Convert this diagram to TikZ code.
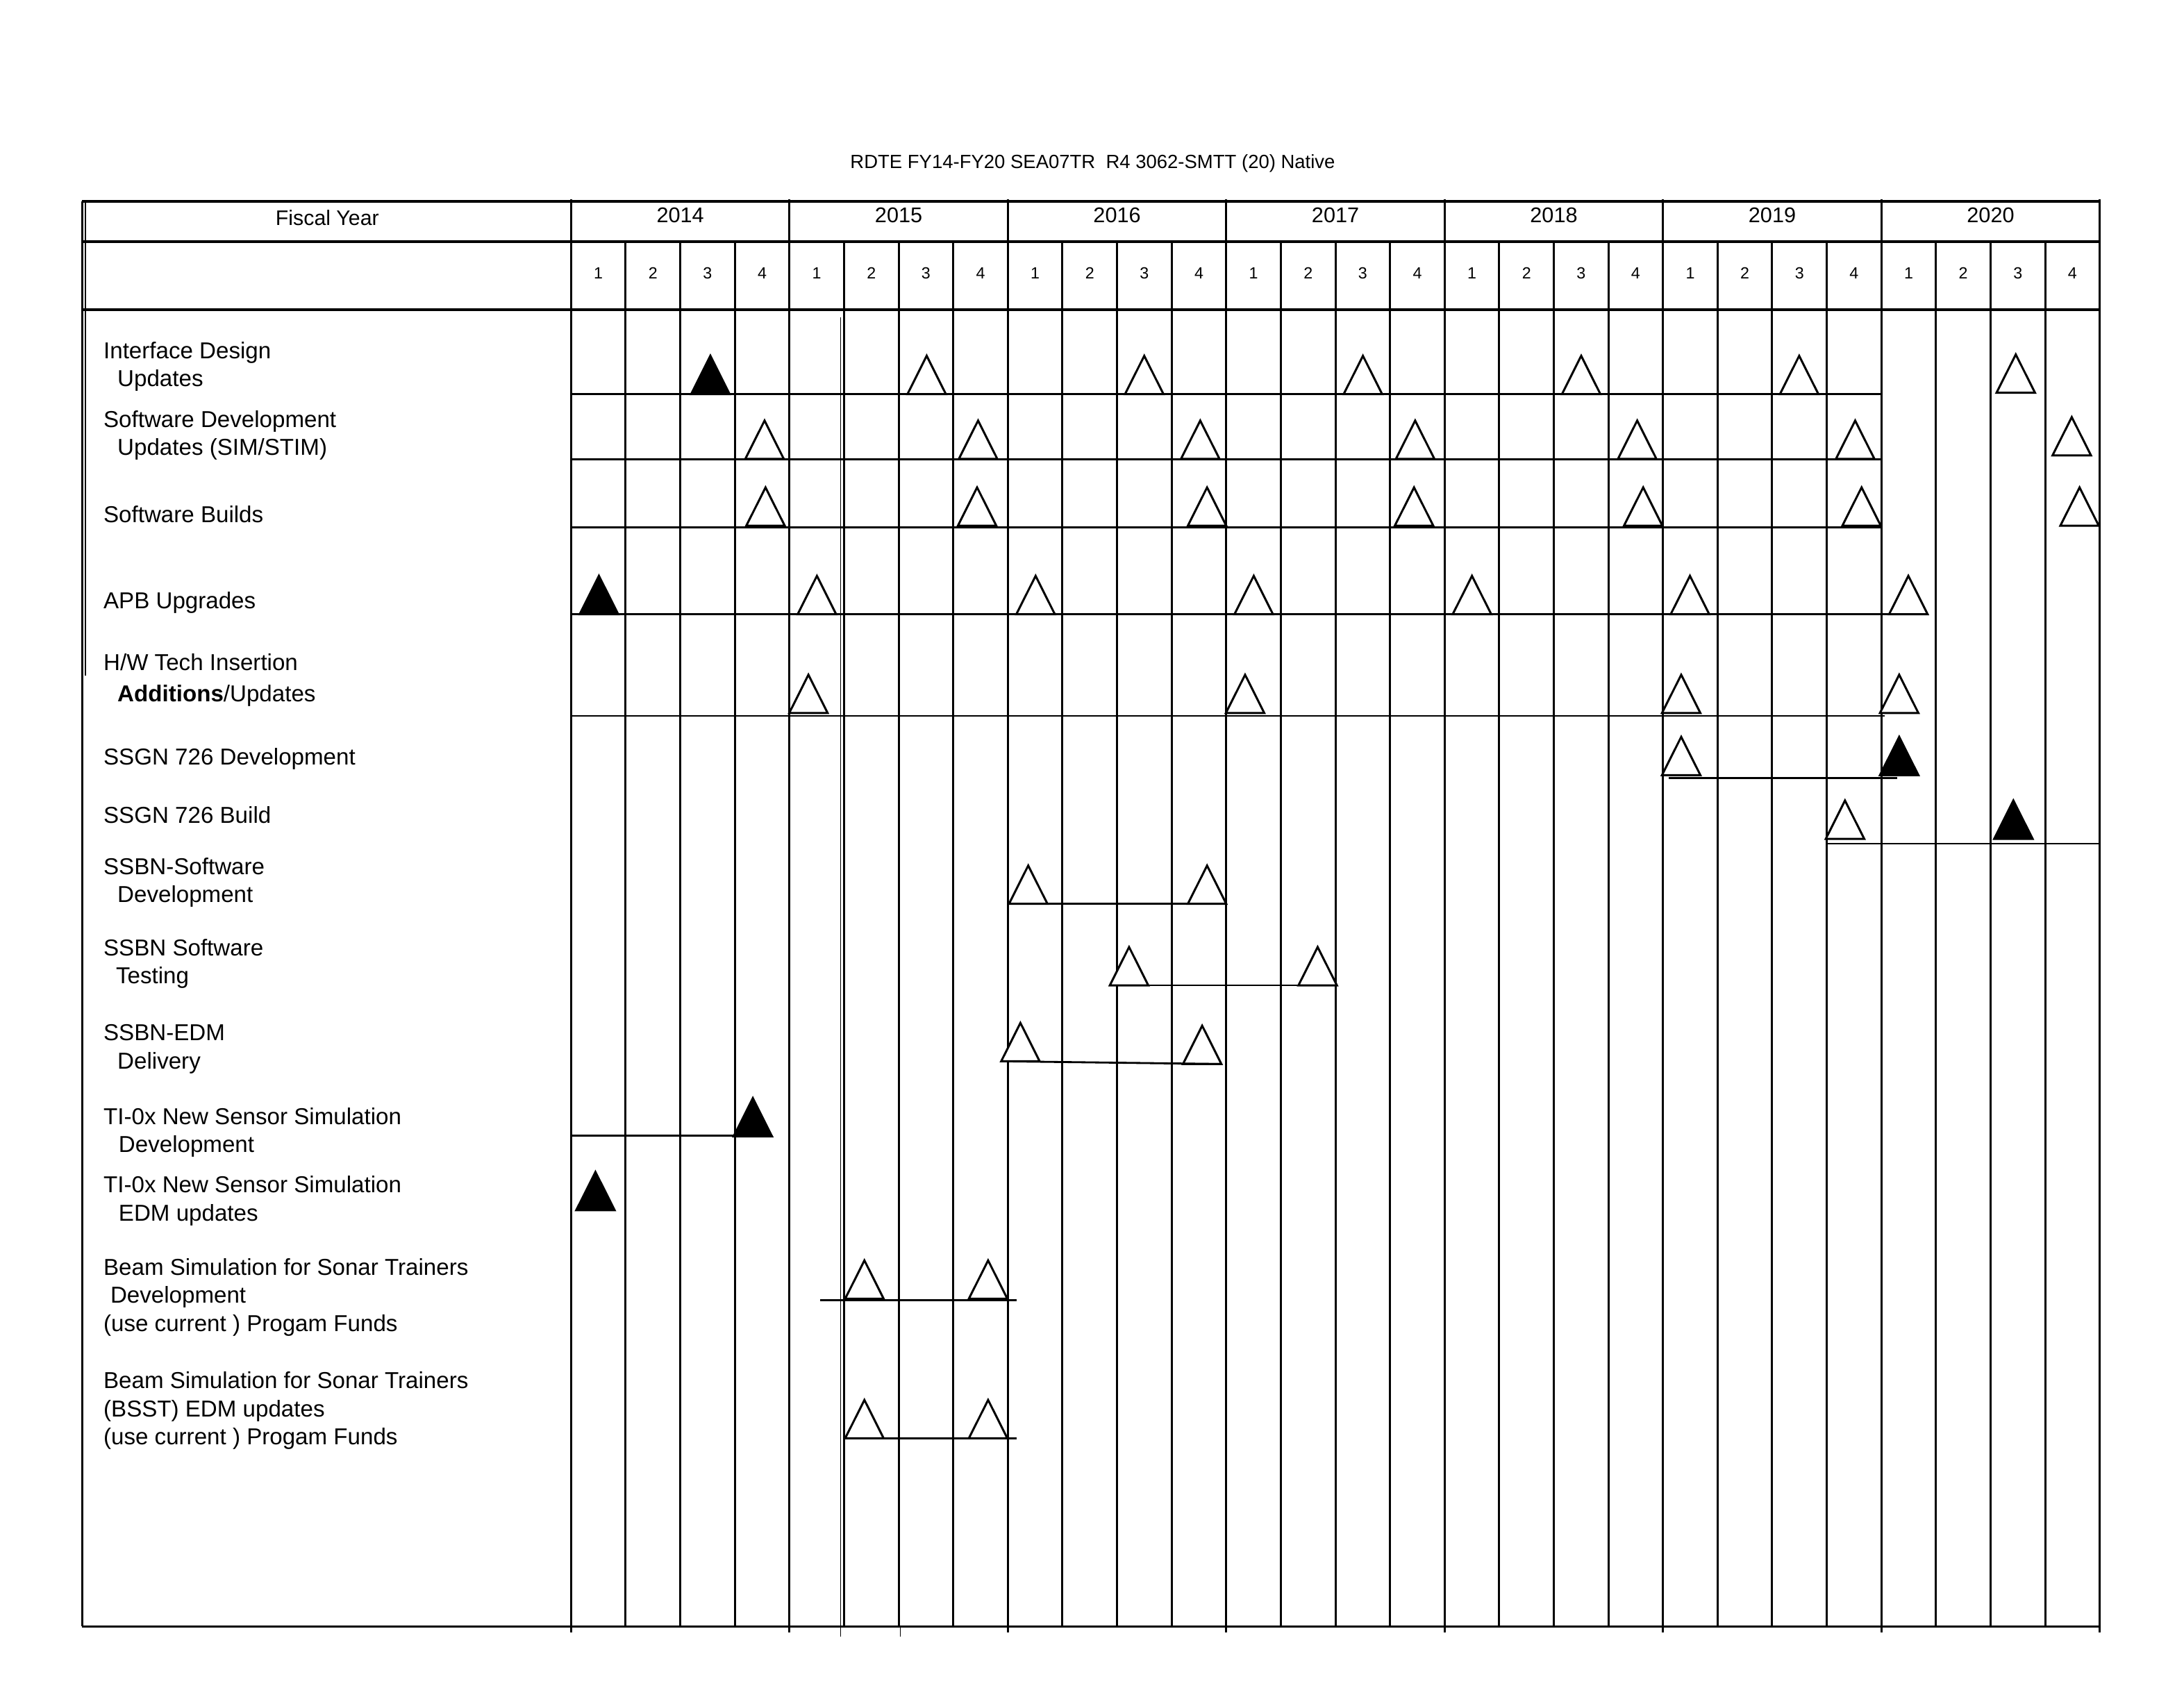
\documentclass[tikz,border=0pt]{standalone}
\usepackage{fontspec}
\setmainfont{Liberation Sans}
\usetikzlibrary{calc}

\begin{document}
\begin{tikzpicture}[x=0.02cm,y=-0.02cm,
  rule/.style={line width=0.85pt},
  thickrule/.style={line width=1.3pt},
  rowrule/.style={line width=0.8pt},
  hdr/.style={anchor=base,inner sep=0pt,font=\fontsize{8.7}{10}\selectfont},
  qnum/.style={anchor=base,inner sep=0pt,font=\fontsize{6.6}{8}\selectfont},
  task/.style={anchor=base west,align=left,inner sep=0pt,font=\fontsize{9.4}{11.5}\selectfont},
  openms/.pic={\draw[line width=0.85pt,fill=white] (-13.8,0) coordinate (-l) -- (0,-27.5) -- (13.8,0) coordinate (-r) -- cycle;},
  donems/.pic={\draw[line width=0.85pt,fill=black] (-13.8,0) coordinate (-l) -- (0,-27.5) -- (13.8,0) coordinate (-r) -- cycle;}]
\useasboundingbox (0,0) rectangle (1568,1212);

\node[anchor=base,inner sep=0pt,font=\fontsize{7.8}{9}\selectfont] (title) at (784.5,121) {RDTE FY14-FY20 SEA07TR\ \ R4 3062-SMTT (20) Native};

\foreach \i in {1,...,27}
  \draw[rule] ({410+39.196*\i},174) -- ({410+39.196*\i},1167.7);
\foreach \i in {0,...,7}
  \draw[rule] ({410+156.79*\i},143) -- ({410+156.79*\i},1172);
\draw[line width=0.4pt] (603.4,228) -- (603.4,1175);
\draw[line width=0.4pt] (646.4,1167) -- (646.4,1175);
\draw[rule] (59,144.6) -- (59,1167.7);
\draw[line width=0.5pt] (61.4,144.6) -- (61.4,485);
\draw[thickrule] (59,144.6) -- (1507.5,144.6);
\draw[thickrule] (59,173.6) -- (1507.5,173.6);
\draw[thickrule] (59,222.3) -- (1507.5,222.3);
\draw[rule] (59,1167.7) -- (1507.5,1167.7);

\node[hdr,font=\fontsize{8.6}{10}\selectfont] (fy) at (235,162) {Fiscal Year};
\foreach \yr [count=\k from 0] in {2014,...,2020} {
  \node[hdr] (y\yr) at ({410+156.79*(\k+0.5)},160) {\yr};
  \foreach \qq in {1,...,4}
    \node[qnum] (q\yr\qq) at ({410+156.79*\k+39.196*(\qq-0.5)},200.3) {\qq};
}

\draw[rowrule] (410,283) -- (1351,283);
\draw[rowrule] (410,330) -- (1351,330);
\draw[rowrule] (410,378.5) -- (1351,378.5);
\draw[rowrule] (410,441) -- (1384,441);
\draw[rowrule] (410,514) -- (1353,514);
\draw[rowrule] (1198,558.5) -- (1362,558.5);
\draw[rowrule] (1312,605.8) -- (1507.5,605.8);
\draw[rowrule] (410,815.5) -- (529,815.5);
\draw[rowrule] (589,933.5) -- (730,933.5);
\draw[rowrule] (606,1032.7) -- (730,1032.7);

\node[task] (idu) at (74,277.5) {Interface Design\\\hspace*{5.7pt}Updates};
\node[task] (sdu) at (74,327) {Software Development\\\hspace*{5.7pt}Updates (SIM/STIM)};
\node[task] (sb) at (74,375) {Software Builds};
\node[task] (apb) at (74,437) {APB Upgrades};
\node[task] (hw) at (74,504) {H/W Tech Insertion\\[1.5pt]\hspace*{5.7pt}\textbf{Additions}/Updates};
\node[task] (sgd) at (74,549) {SSGN 726 Development};
\node[task] (sgb) at (74,591) {SSGN 726 Build};
\node[task] (sbd) at (74,648) {SSBN-Software\\\hspace*{5.7pt}Development};
\node[task] (sbt) at (74,706.4) {SSBN Software\\\hspace*{5.1pt}Testing};
\node[task] (sbe) at (74,767.5) {SSBN-EDM\\\hspace*{5.7pt}Delivery};
\node[task] (tid) at (74,827.6) {TI-0x New Sensor Simulation\\\hspace*{6.2pt}Development};
\node[task] (tie) at (74,876.6) {TI-0x New Sensor Simulation\\\hspace*{6.2pt}EDM updates};
\node[task] (bsd) at (74,956) {Beam Simulation for Sonar Trainers\\\hspace*{2.8pt}Development\\(use current ) Progam Funds};
\node[task] (bse) at (74,1037.3) {Beam Simulation for Sonar Trainers\\(BSST) EDM updates\\(use current ) Progam Funds};

\pic (ida0) at (510,283) {donems};
\foreach \x [count=\n] in {665.3,821.5,978.5,1135.2,1291.7}
  \pic (ida\n) at (\x,283) {openms};
\pic (ida6) at (1447.2,282) {openms};
\foreach \x [count=\n] in {548.9,702.2,861.7,1016,1175.4,1331.9}
  \pic (sdu\n) at (\x,329.5) {openms};
\pic (sdu7) at (1487.4,327) {openms};
\foreach \x [count=\n] in {549.6,701.5,866.6,1015.2,1179.7,1336.5,1493}
  \pic (sbm\n) at (\x,377.5) {openms};
\pic (apb0) at (430,441) {donems};
\foreach \x [count=\n] in {586.5,743.5,900.1,1056.8,1213.3,1370.1}
  \pic (apb\n) at (\x,441) {openms};
\foreach \x [count=\n] in {580.4,893.9,1207,1363.5}
  \pic (hwm\n) at (\x,512) {openms};
\pic (sgd1) at (1207,556.6) {openms};
\pic (sgd2) at (1363.5,556.6) {donems};
\pic (sgb1) at (1324.6,602.3) {openms};
\pic (sgb2) at (1445.5,602.3) {donems};
\pic (sbd1) at (738.2,649) {openms};
\pic (sbd2) at (866.6,649) {openms};
\pic (sbt1) at (810.6,707.5) {openms};
\pic (sbt2) at (946,707.5) {openms};
\pic (sbe1) at (732.6,762) {openms};
\pic (sbe2) at (863.1,764) {openms};
\pic (tid1) at (540.5,816) {donems};
\pic (tie1) at (427.5,869) {donems};
\pic (bsd1) at (620.6,932.5) {openms};
\pic (bsd2) at (709.4,932.5) {openms};
\pic (bse1) at (620.6,1032.7) {openms};
\pic (bse2) at (709.4,1032.7) {openms};

\draw[rowrule] (sbd1-r) -- (sbd2-l);
\draw[rowrule] (sbt1-l) -- (sbt2-r);
\draw[rowrule] (sbe1-l) -- (sbe2-r);
\end{tikzpicture}
\end{document}
